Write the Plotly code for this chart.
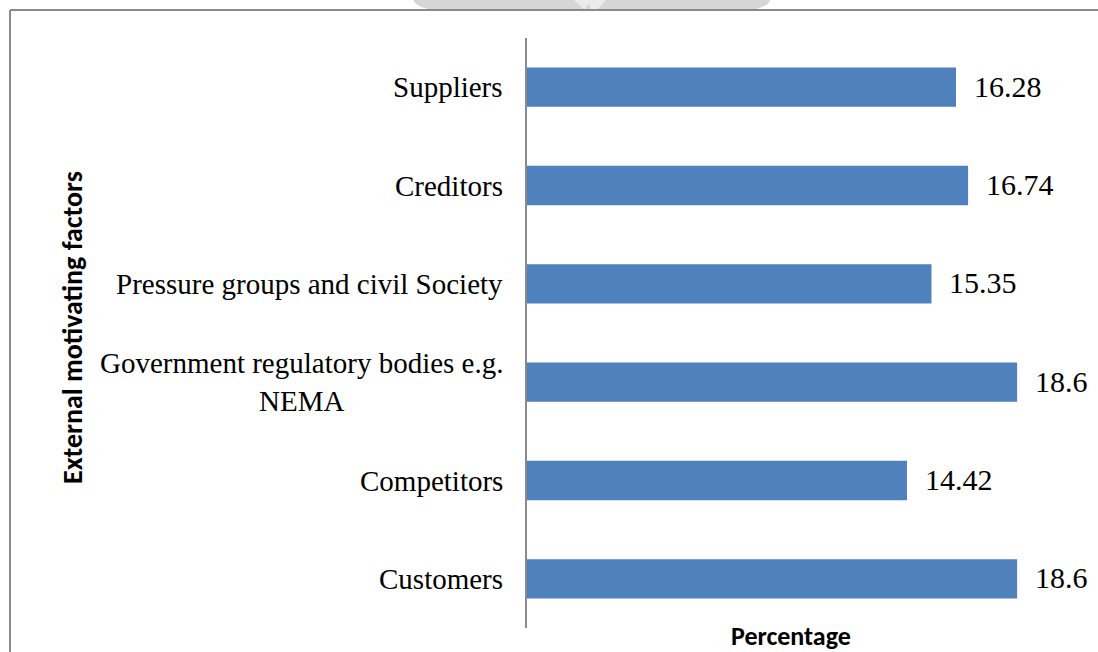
import plotly.graph_objects as go

# Data: external motivating factors (top to bottom) and their percentages
factors = [
    "Suppliers",
    "Creditors",
    "Pressure groups and civil Society",
    "Government regulatory bodies e.g.<br>NEMA",
    "Competitors",
    "Customers",
]
percentages = [16.28, 16.74, 15.35, 18.6, 14.42, 18.6]

x_title = "Percentage"
y_title = "External motivating factors"

W, H = 1098, 652
M_L, M_R, M_T, M_B = 527, 44, 38, 24
PW, PH = W - M_L - M_R, H - M_T - M_B


def px(xp):
    return (xp - M_L) / PW


def py(yp):
    return (H - M_B - yp) / PH


serif = "Liberation Serif, Times New Roman, serif"
sans_bold = "Carlito, Lato, Open Sans, sans-serif"

fig = go.Figure(
    go.Bar(
        x=percentages,
        y=factors,
        orientation="h",
        marker=dict(color="#4f81bd", line=dict(width=0)),
        hoverinfo="x+y",
    )
)

annotations = []
# category labels, right-aligned against the axis, lines centred
for f in factors:
    annotations.append(dict(
        x=px(505), xref="paper", y=f, yref="y",
        text=f, showarrow=False, xanchor="right", yanchor="middle",
        align="center", font=dict(family=serif, size=29, color="#000000"),
    ))
# value labels at the end of each bar
for f, v in zip(factors, percentages):
    annotations.append(dict(
        x=v, xref="x", y=f, yref="y",
        text=str(v), showarrow=False, xanchor="left", yanchor="middle",
        xshift=16, yshift=1, font=dict(family=serif, size=30, color="#000000"),
    ))
# axis titles
annotations.append(dict(
    x=px(791), xref="paper", y=py(636), yref="paper",
    text=f"<b>{x_title}</b>", showarrow=False, xanchor="center", yanchor="middle",
    font=dict(family=sans_bold, size=26, color="#000000"),
))
annotations.append(dict(
    x=px(72), xref="paper", y=py(328), yref="paper",
    text=f"<b>{y_title}</b>", showarrow=False, xanchor="center", yanchor="middle",
    textangle=-90, font=dict(family=sans_bold, size=28, color="#000000"),
))

shapes = [
    # faint header fragment at the top edge
    dict(type="path", xref="paper", yref="paper",
         path=(f"M {px(413)},{py(0)} L {px(770)},{py(0)} L {px(768)},{py(4)} "
               f"L {px(762)},{py(7)} L {px(755)},{py(9.5)} L {px(430)},{py(9.5)} "
               f"L {px(421)},{py(7)} L {px(416)},{py(4)} Z"),
         fillcolor="#d6d6d6", line=dict(width=0), layer="below"),
    dict(type="path", xref="paper", yref="paper",
         path=(f"M {px(574)},{py(0)} L {px(606)},{py(0)} L {px(597)},{py(9.5)} "
               f"L {px(590)},{py(9.5)} L {px(590)},{py(3)} L {px(584)},{py(9.5)} Z"),
         fillcolor="#ebebeb", line=dict(width=0), layer="below"),
    # outer frame (top and left edges)
    dict(type="line", xref="paper", yref="paper",
         x0=px(10), x1=px(1100), y0=py(10), y1=py(10),
         line=dict(color="#8a8a8a", width=2)),
    dict(type="line", xref="paper", yref="paper",
         x0=px(10), x1=px(10), y0=py(10), y1=py(654),
         line=dict(color="#8a8a8a", width=2)),
]

fig.update_layout(
    width=W, height=H,
    margin=dict(l=M_L, r=M_R, t=M_T, b=M_B),
    paper_bgcolor="#ffffff", plot_bgcolor="#ffffff",
    bargap=0.6,
    showlegend=False,
    xaxis=dict(range=[0, 20], showgrid=False, zeroline=False, showline=False,
               showticklabels=False, ticks=""),
    yaxis=dict(categoryorder="array", categoryarray=factors, autorange="reversed",
               showgrid=False, zeroline=False, showticklabels=False, ticks="",
               showline=True, linecolor="#8a8a8a", linewidth=2),
    annotations=annotations,
    shapes=shapes,
)

fig.write_html("out.html")
